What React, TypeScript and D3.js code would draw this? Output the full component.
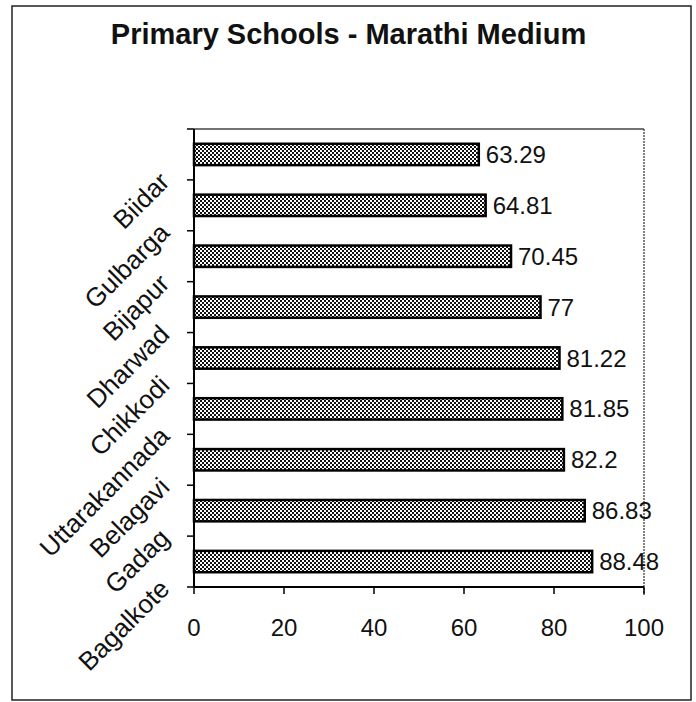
import React from "react";
import * as d3 from "d3";

const categories = ["Biidar", "Gulbarga", "Bijapur", "Dharwad", "Chikkodi", "Uttarakannada", "Belagavi", "Gadag", "Bagalkote"];
const values = [63.29, 64.81, 70.45, 77, 81.22, 81.85, 82.2, 86.83, 88.48];
const valueLabels = ["63.29", "64.81", "70.45", "77", "81.22", "81.85", "82.2", "86.83", "88.48"];
const xTicks = [0, 20, 40, 60, 80, 100];
const title = "Primary Schools - Marathi Medium";

const W = 696;
const H = 702;
const plot = { left: 194, right: 644, top: 129, bottom: 587 };
const font = "'Liberation Sans', Arial, sans-serif";

export default function App() {
  const x = d3.scaleLinear().domain([0, 100]).range([plot.left, plot.right]);
  const y = d3
    .scaleBand<string>()
    .domain(categories)
    .range([plot.top, plot.bottom])
    .paddingInner(0.58)
    .paddingOuter(0.29);
  const step = y.step();
  const bw = y.bandwidth();
  const boundaries = categories.map((c) => (y(c) as number) - (step - bw) / 2);
  boundaries.push(plot.bottom);

  return (
    <svg
      width={W}
      height={H}
      style={{ position: "absolute", left: 0, top: 0, background: "#fff" }}
      fontFamily={font}
    >
      <defs>
        <pattern id="chk" width="4" height="4" patternUnits="userSpaceOnUse">
          <rect width="4" height="4" fill="#fff" />
          <rect x="0" y="0" width="2" height="2" fill="#111" />
          <rect x="2" y="2" width="2" height="2" fill="#111" />
        </pattern>
      </defs>
      <rect x={12} y={6} width={679} height={694} fill="none" stroke="#222" strokeWidth={1.5} />
      <text
        x={(110 + 587) / 2}
        y={44}
        textAnchor="middle"
        fontSize={29}
        fontWeight="bold"
        fill="#111"
      >
        {title}
      </text>

      {/* plot area frame */}
      <line x1={plot.left} x2={plot.right} y1={plot.top} y2={plot.top} stroke="#444" strokeWidth={1.5} />
      <line x1={plot.right} x2={plot.right} y1={plot.top} y2={plot.bottom + 8} stroke="#555" strokeWidth={1.5} strokeDasharray="2 1" />

      {/* bars */}
      {categories.map((c, i) => (
        <g key={c}>
          <rect
            x={x(0)}
            y={y(c) as number}
            width={x(values[i]) - x(0)}
            height={bw}
            fill="url(#chk)"
            stroke="#000"
            strokeWidth={2.5}
          />
          <text
            x={x(values[i]) + 7}
            y={(y(c) as number) + bw / 2}
            dominantBaseline="central"
            fontSize={24}
            fill="#111"
          >
            {valueLabels[i]}
          </text>
          <text
            transform={`translate(171, ${(y(c) as number) + bw / 2 + 29}) rotate(-45)`}
            textAnchor="end"
            fontSize={26}
            fill="#111"
          >
            {c}
          </text>
        </g>
      ))}

      {/* y axis */}
      <line x1={plot.left} x2={plot.left} y1={plot.top} y2={plot.bottom} stroke="#000" strokeWidth={2} />
      {boundaries.map((b, i) => (
        <line key={i} x1={plot.left - 7} x2={plot.left} y1={b} y2={b} stroke="#000" strokeWidth={1.5} />
      ))}

      {/* x axis */}
      <line x1={plot.left} x2={plot.right} y1={plot.bottom} y2={plot.bottom} stroke="#000" strokeWidth={2} />
      {xTicks.map((t) => (
        <g key={t}>
          <line x1={x(t)} x2={x(t)} y1={plot.bottom} y2={plot.bottom + 7} stroke="#000" strokeWidth={1.5} />
          <text x={x(t)} y={636} textAnchor="middle" fontSize={24} fill="#111">
            {t}
          </text>
        </g>
      ))}
    </svg>
  );
}
